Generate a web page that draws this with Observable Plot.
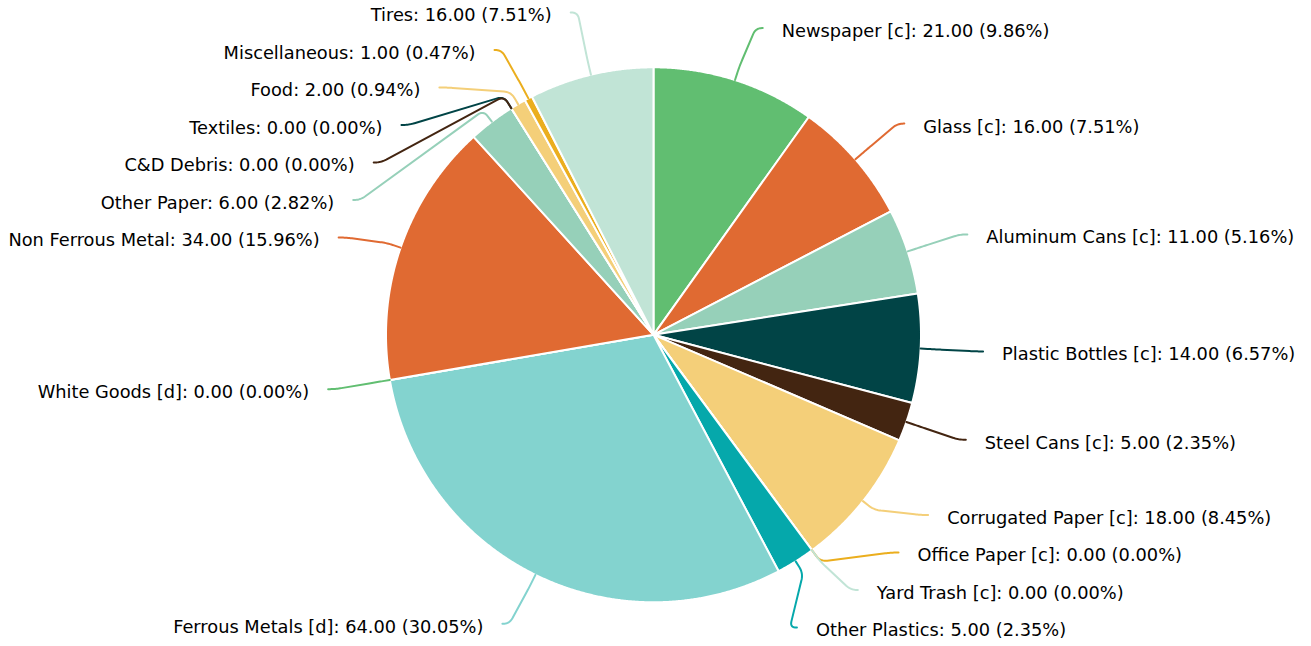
<!DOCTYPE html>
<html><head><meta charset="utf-8">
<script src="https://cdn.jsdelivr.net/npm/d3@7"></script>
<script src="https://cdn.jsdelivr.net/npm/@observablehq/plot@0.6"></script>
<style>html,body{margin:0;padding:0;background:#fff;overflow:hidden}</style>
</head><body><div id="chart"></div>
<script>
// ---- data ----
const categories = ["Newspaper [c]","Glass [c]","Aluminum Cans [c]","Plastic Bottles [c]","Steel Cans [c]","Corrugated Paper [c]","Office Paper [c]","Yard Trash [c]","Other Plastics","Ferrous Metals [d]","White Goods [d]","Non Ferrous Metal","Other Paper","Textiles","C&D Debris","Food","Miscellaneous","Tires"];
const values = [21,16,11,14,5,18,0,0,5,64,0,34,6,0,0,2,1,16];
const palette = ["#61be71","#e06a32","#96d0b9","#014446","#432511","#f4cf79","#ebae1e","#c1e4d6","#05a8ab","#83d3cf"];

// ---- layout constants ----
const W = 1311, H = 646;
const PX = 267.5, CX = 653, CY = 334.3;      // radius in px, centre
const RyIdeal = 322 / PX, RxS = 330 / PX, RyS = 325 / PX;
const sp = 37.5 / PX, minYd = -(CY - 12) / PX, maxYd = (627 - CY) / PX;
const armA = 7 / PX, armB = 14 / PX, rad = 10 / PX;

const total = d3.sum(values);
const arcs = d3.pie().sort(null).value(d => d)(values);

const rows = categories.map((name, i) => {
  const a = arcs[i];
  const mid = (a.startAngle + a.endAngle) / 2;
  return {
    i, name, value: values[i], color: palette[i % palette.length],
    start: a.startAngle, end: a.endAngle, mid,
    side: Math.sin(mid) >= 0 ? 1 : -1,
    ideal: -RyIdeal * Math.cos(mid), // y pointing down, in radius units
    label: `${name}: ${values[i].toFixed(2)} (${(values[i] / total * 100).toFixed(2)}%)`
  };
});

// slice polygons
const slicePts = [];
for (const r of rows) {
  slicePts.push({name: r.name, color: r.color, x: 0, y: 0});
  const n = Math.max(1, Math.ceil((r.end - r.start) / (Math.PI / 720)));
  for (let k = 0; k <= n; k++) {
    const t = r.start + (r.end - r.start) * k / n;
    slicePts.push({name: r.name, color: r.color, x: Math.sin(t), y: Math.cos(t)});
  }
}

// label collision resolution per side
function resolve(items) {
  const cl = [];
  const fix = c => {
    const n = c.m.length;
    let top = d3.mean(c.m, (m, k) => m.ideal - k * sp);
    c.top = Math.max(minYd, Math.min(maxYd - (n - 1) * sp, top));
  };
  for (const it of items) {
    const c = {m: [it]}; fix(c); cl.push(c);
    while (cl.length > 1) {
      const a = cl[cl.length - 2], b = cl[cl.length - 1];
      if (a.top + a.m.length * sp > b.top + 1e-9) { a.m = a.m.concat(b.m); cl.pop(); fix(a); }
      else break;
    }
  }
  cl.forEach(c => c.m.forEach((m, k) => m.yd = c.top + k * sp));
}
for (const s of [1, -1]) {
  resolve(rows.filter(r => r.side === s).sort((a, b) => a.ideal - b.ideal || a.i - b.i));
}
for (const r of rows) {
  r.ly = -r.yd;
  const k = Math.min(Math.abs(r.ly) / RyS, 0.968);
  r.lx = r.side * RxS * Math.sqrt(1 - k * k);
}

// leader lines with rounded corners
function rounded(pts) {
  const out = [pts[0]];
  for (let j = 1; j < pts.length - 1; j++) {
    const P = pts[j], A = pts[j - 1], C = pts[j + 1];
    const l1 = Math.hypot(P[0] - A[0], P[1] - A[1]), l2 = Math.hypot(C[0] - P[0], C[1] - P[1]);
    const rr = Math.min(rad, l1 * 0.9, l2 / 2);
    const s = [P[0] - (P[0] - A[0]) / l1 * rr, P[1] - (P[1] - A[1]) / l1 * rr];
    const e = [P[0] + (C[0] - P[0]) / l2 * rr, P[1] + (C[1] - P[1]) / l2 * rr];
    for (let q = 0; q <= 10; q++) {
      const t = q / 10;
      out.push([(1 - t) * (1 - t) * s[0] + 2 * t * (1 - t) * P[0] + t * t * e[0],
                (1 - t) * (1 - t) * s[1] + 2 * t * (1 - t) * P[1] + t * t * e[1]]);
    }
  }
  out.push(pts[pts.length - 1]);
  return out;
}
const leaderPts = [];
for (const r of rows) {
  const sx = Math.sin(r.mid), cy = Math.cos(r.mid);
  const pts = [[r.lx, r.ly], [r.lx - r.side * armA, r.ly], [(1 + armB) * sx, (1 + armB) * cy], [sx, cy]];
  for (const p of rounded(pts)) leaderPts.push({name: r.name, color: r.color, x: p[0], y: p[1]});
}

const textStyle = {x: "lx", y: "ly", text: "label", fontSize: 17.8, fontFamily: "DejaVu Sans", fill: "#000", dy: 3.2, lineAnchor: "middle"};

const chart = Plot.plot({
  width: W, height: H,
  marginTop: 0, marginRight: 0, marginBottom: 0, marginLeft: 0,
  style: {background: "#fff", overflow: "visible"},
  x: {domain: [-CX / PX, (W - CX) / PX], axis: null},
  y: {domain: [-(H - CY) / PX, CY / PX], axis: null},
  marks: [
    Plot.line(slicePts, {x: "x", y: "y", z: "name", fill: "color", stroke: "#fff", strokeWidth: 2, strokeLinejoin: "round", curve: "linear-closed"}),
    Plot.line(leaderPts, {x: "x", y: "y", z: "name", stroke: "color", strokeWidth: 2, curve: "linear"}),
    Plot.text(rows.filter(r => r.side > 0), {...textStyle, textAnchor: "start", dx: 19}),
    Plot.text(rows.filter(r => r.side < 0), {...textStyle, textAnchor: "end", dx: -19})
  ]
});
document.getElementById("chart").appendChild(chart);
</script>
</body></html>
